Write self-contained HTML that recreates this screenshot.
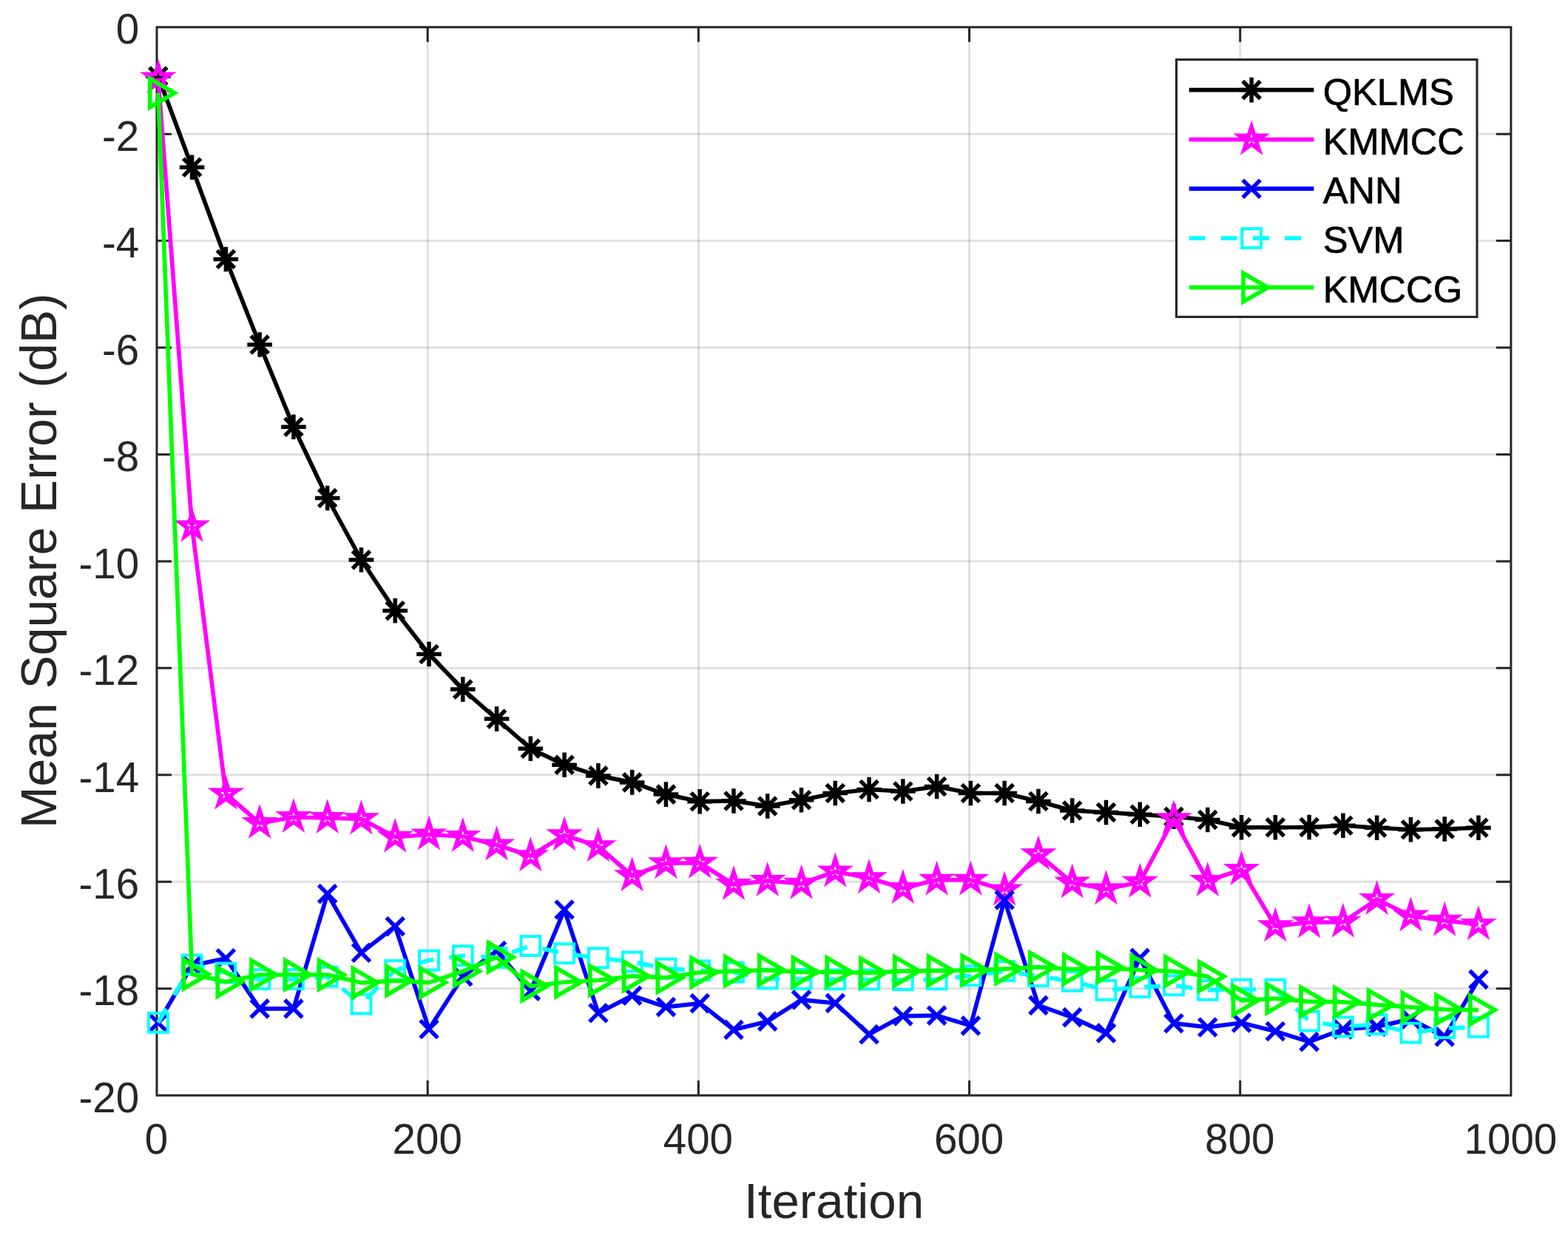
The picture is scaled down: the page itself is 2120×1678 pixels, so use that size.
<!DOCTYPE html>
<html lang="en">
<head>
<meta charset="utf-8">
<title>Mean Square Error vs Iteration</title>
<style>
html, body { margin: 0; padding: 0; background: #ffffff; }
body { width: 2120px; height: 1678px; overflow: hidden; }
svg { display: block; }
</style>
</head>
<body>
<svg width="2120" height="1678" viewBox="0 0 2120 1678">
<defs><g id="mA"><path d="M-16.80 0H16.80M0 -16.80V16.80M-11.88 -11.88L11.88 11.88M-11.88 11.88L11.88 -11.88" fill="none" stroke-width="5.5"/></g><g id="mX"><path d="M-11.88 -11.88L11.88 11.88M-11.88 11.88L11.88 -11.88" fill="none" stroke-width="5.5"/></g><g id="mP"><path d="M0.00 -17.00L3.82 -5.25L16.17 -5.25L6.18 2.01L9.99 13.75L0.00 6.49L-9.99 13.75L-6.18 2.01L-16.17 -5.25L-3.82 -5.25Z" fill="none" stroke-width="5.6" stroke-linejoin="miter" stroke-miterlimit="10"/></g><g id="mS"><rect x="-12.90" y="-12.90" width="25.80" height="25.80" fill="none" stroke-width="4.0"/></g><g id="mT"><path d="M-11.10 -19.23L22.20 0L-11.10 19.23Z" fill="none" stroke-width="5.7" stroke-linejoin="miter" stroke-miterlimit="10"/></g></defs>
<rect x="0" y="0" width="2120" height="1678" fill="#fff"/>
<path d="M578.18 36.75V1481.1M944.36 36.75V1481.1M1310.54 36.75V1481.1M1676.72 36.75V1481.1" stroke="#262626" stroke-opacity="0.15" stroke-width="2.9" fill="none"/>
<path d="M212.0 181.19H2042.9M212.0 325.62H2042.9M212.0 470.06H2042.9M212.0 614.49H2042.9M212.0 758.92H2042.9M212.0 903.36H2042.9M212.0 1047.8H2042.9M212.0 1192.23H2042.9M212.0 1336.66H2042.9" stroke="#262626" stroke-opacity="0.15" stroke-width="2.9" fill="none"/>
<path d="M578.18 1481.1v-20.0M578.18 36.75v20.0M944.36 1481.1v-20.0M944.36 36.75v20.0M1310.54 1481.1v-20.0M1310.54 36.75v20.0M1676.72 1481.1v-20.0M1676.72 36.75v20.0M212.0 181.19h20.0M2042.9 181.19h-20.0M212.0 325.62h20.0M2042.9 325.62h-20.0M212.0 470.06h20.0M2042.9 470.06h-20.0M212.0 614.49h20.0M2042.9 614.49h-20.0M212.0 758.92h20.0M2042.9 758.92h-20.0M212.0 903.36h20.0M2042.9 903.36h-20.0M212.0 1047.8h20.0M2042.9 1047.8h-20.0M212.0 1192.23h20.0M2042.9 1192.23h-20.0M212.0 1336.66h20.0M2042.9 1336.66h-20.0" stroke="#262626" stroke-width="3.0" fill="none"/>
<rect x="212.0" y="36.75" width="1830.9" height="1444.35" fill="none" stroke="#262626" stroke-width="3.0"/>
<g stroke="#000000">
<polyline fill="none" stroke-width="5.7" stroke-linejoin="round" points="213.83,103 259.6,226.25 305.38,350.5 351.15,466 396.92,577.25 442.69,673.5 488.47,757 534.24,825.7 580.01,884.5 625.78,932.1 671.56,972.1 717.33,1012.2 763.1,1034.2 808.87,1048.9 854.65,1057.9 900.42,1074.1 946.19,1083.7 991.96,1083 1037.74,1090 1083.51,1081.75 1129.28,1072.5 1175.05,1067.5 1220.83,1070 1266.6,1063.5 1312.37,1072.5 1358.14,1072.5 1403.92,1083.5 1449.69,1096 1495.46,1098.5 1541.23,1101.25 1587.01,1104.25 1632.78,1108.5 1678.55,1118.75 1724.32,1118.75 1770.1,1118.5 1815.87,1116.25 1861.64,1119.25 1907.41,1121.75 1953.19,1121 1998.96,1119.25"/>
<use href="#mA" x="213.83" y="103"/>
<use href="#mA" x="259.6" y="226.25"/>
<use href="#mA" x="305.38" y="350.5"/>
<use href="#mA" x="351.15" y="466"/>
<use href="#mA" x="396.92" y="577.25"/>
<use href="#mA" x="442.69" y="673.5"/>
<use href="#mA" x="488.47" y="757"/>
<use href="#mA" x="534.24" y="825.7"/>
<use href="#mA" x="580.01" y="884.5"/>
<use href="#mA" x="625.78" y="932.1"/>
<use href="#mA" x="671.56" y="972.1"/>
<use href="#mA" x="717.33" y="1012.2"/>
<use href="#mA" x="763.1" y="1034.2"/>
<use href="#mA" x="808.87" y="1048.9"/>
<use href="#mA" x="854.65" y="1057.9"/>
<use href="#mA" x="900.42" y="1074.1"/>
<use href="#mA" x="946.19" y="1083.7"/>
<use href="#mA" x="991.96" y="1083"/>
<use href="#mA" x="1037.74" y="1090"/>
<use href="#mA" x="1083.51" y="1081.75"/>
<use href="#mA" x="1129.28" y="1072.5"/>
<use href="#mA" x="1175.05" y="1067.5"/>
<use href="#mA" x="1220.83" y="1070"/>
<use href="#mA" x="1266.6" y="1063.5"/>
<use href="#mA" x="1312.37" y="1072.5"/>
<use href="#mA" x="1358.14" y="1072.5"/>
<use href="#mA" x="1403.92" y="1083.5"/>
<use href="#mA" x="1449.69" y="1096"/>
<use href="#mA" x="1495.46" y="1098.5"/>
<use href="#mA" x="1541.23" y="1101.25"/>
<use href="#mA" x="1587.01" y="1104.25"/>
<use href="#mA" x="1632.78" y="1108.5"/>
<use href="#mA" x="1678.55" y="1118.75"/>
<use href="#mA" x="1724.32" y="1118.75"/>
<use href="#mA" x="1770.1" y="1118.5"/>
<use href="#mA" x="1815.87" y="1116.25"/>
<use href="#mA" x="1861.64" y="1119.25"/>
<use href="#mA" x="1907.41" y="1121.75"/>
<use href="#mA" x="1953.19" y="1121"/>
<use href="#mA" x="1998.96" y="1119.25"/>
</g>
<g stroke="#ff00ff">
<polyline fill="none" stroke-width="5.7" stroke-linejoin="round" points="213.83,105.5 259.6,711.6 305.38,1073.5 351.15,1113 396.92,1105 442.69,1106 488.47,1107.3 534.24,1131.75 580.01,1128.5 625.78,1131 671.56,1142.5 717.33,1157.25 763.1,1129.25 808.87,1144.25 854.65,1184.25 900.42,1167.25 946.19,1166.75 991.96,1196 1037.74,1191 1083.51,1194.75 1129.28,1178.5 1175.05,1187.25 1220.83,1201 1266.6,1189.75 1312.37,1189.75 1358.14,1203.5 1403.92,1155.25 1449.69,1193.5 1495.46,1202.25 1541.23,1192.75 1587.01,1107.25 1632.78,1191 1678.55,1176 1724.32,1252.25 1770.1,1247.25 1815.87,1246.75 1861.64,1216 1907.41,1238.5 1953.19,1244.75 1998.96,1250"/>
<use href="#mP" x="213.83" y="105.5"/>
<use href="#mP" x="259.6" y="711.6"/>
<use href="#mP" x="305.38" y="1073.5"/>
<use href="#mP" x="351.15" y="1113"/>
<use href="#mP" x="396.92" y="1105"/>
<use href="#mP" x="442.69" y="1106"/>
<use href="#mP" x="488.47" y="1107.3"/>
<use href="#mP" x="534.24" y="1131.75"/>
<use href="#mP" x="580.01" y="1128.5"/>
<use href="#mP" x="625.78" y="1131"/>
<use href="#mP" x="671.56" y="1142.5"/>
<use href="#mP" x="717.33" y="1157.25"/>
<use href="#mP" x="763.1" y="1129.25"/>
<use href="#mP" x="808.87" y="1144.25"/>
<use href="#mP" x="854.65" y="1184.25"/>
<use href="#mP" x="900.42" y="1167.25"/>
<use href="#mP" x="946.19" y="1166.75"/>
<use href="#mP" x="991.96" y="1196"/>
<use href="#mP" x="1037.74" y="1191"/>
<use href="#mP" x="1083.51" y="1194.75"/>
<use href="#mP" x="1129.28" y="1178.5"/>
<use href="#mP" x="1175.05" y="1187.25"/>
<use href="#mP" x="1220.83" y="1201"/>
<use href="#mP" x="1266.6" y="1189.75"/>
<use href="#mP" x="1312.37" y="1189.75"/>
<use href="#mP" x="1358.14" y="1203.5"/>
<use href="#mP" x="1403.92" y="1155.25"/>
<use href="#mP" x="1449.69" y="1193.5"/>
<use href="#mP" x="1495.46" y="1202.25"/>
<use href="#mP" x="1541.23" y="1192.75"/>
<use href="#mP" x="1587.01" y="1107.25"/>
<use href="#mP" x="1632.78" y="1191"/>
<use href="#mP" x="1678.55" y="1176"/>
<use href="#mP" x="1724.32" y="1252.25"/>
<use href="#mP" x="1770.1" y="1247.25"/>
<use href="#mP" x="1815.87" y="1246.75"/>
<use href="#mP" x="1861.64" y="1216"/>
<use href="#mP" x="1907.41" y="1238.5"/>
<use href="#mP" x="1953.19" y="1244.75"/>
<use href="#mP" x="1998.96" y="1250"/>
</g>
<g stroke="#0000ff">
<polyline fill="none" stroke-width="5.7" stroke-linejoin="round" points="213.83,1383 259.6,1305.6 305.38,1295.7 351.15,1363.85 396.92,1363.85 442.69,1208.6 488.47,1288.3 534.24,1252.6 580.01,1391.5 625.78,1320.5 671.56,1285.5 717.33,1340.1 763.1,1230 808.87,1369.8 854.65,1346.2 900.42,1361.6 946.19,1356.6 991.96,1392.35 1037.74,1381.1 1083.51,1351.85 1129.28,1356.35 1175.05,1398.6 1220.83,1373.85 1266.6,1373.1 1312.37,1386.85 1358.14,1216.85 1403.92,1359.35 1449.69,1375.6 1495.46,1396.9 1541.23,1295.4 1587.01,1383.7 1632.78,1388.95 1678.55,1383 1724.32,1394.5 1770.1,1408.6 1815.87,1391.85 1861.64,1388.1 1907.41,1378.1 1953.19,1401.85 1998.96,1324.35"/>
<use href="#mX" x="213.83" y="1383"/>
<use href="#mX" x="259.6" y="1305.6"/>
<use href="#mX" x="305.38" y="1295.7"/>
<use href="#mX" x="351.15" y="1363.85"/>
<use href="#mX" x="396.92" y="1363.85"/>
<use href="#mX" x="442.69" y="1208.6"/>
<use href="#mX" x="488.47" y="1288.3"/>
<use href="#mX" x="534.24" y="1252.6"/>
<use href="#mX" x="580.01" y="1391.5"/>
<use href="#mX" x="625.78" y="1320.5"/>
<use href="#mX" x="671.56" y="1285.5"/>
<use href="#mX" x="717.33" y="1340.1"/>
<use href="#mX" x="763.1" y="1230"/>
<use href="#mX" x="808.87" y="1369.8"/>
<use href="#mX" x="854.65" y="1346.2"/>
<use href="#mX" x="900.42" y="1361.6"/>
<use href="#mX" x="946.19" y="1356.6"/>
<use href="#mX" x="991.96" y="1392.35"/>
<use href="#mX" x="1037.74" y="1381.1"/>
<use href="#mX" x="1083.51" y="1351.85"/>
<use href="#mX" x="1129.28" y="1356.35"/>
<use href="#mX" x="1175.05" y="1398.6"/>
<use href="#mX" x="1220.83" y="1373.85"/>
<use href="#mX" x="1266.6" y="1373.1"/>
<use href="#mX" x="1312.37" y="1386.85"/>
<use href="#mX" x="1358.14" y="1216.85"/>
<use href="#mX" x="1403.92" y="1359.35"/>
<use href="#mX" x="1449.69" y="1375.6"/>
<use href="#mX" x="1495.46" y="1396.9"/>
<use href="#mX" x="1541.23" y="1295.4"/>
<use href="#mX" x="1587.01" y="1383.7"/>
<use href="#mX" x="1632.78" y="1388.95"/>
<use href="#mX" x="1678.55" y="1383"/>
<use href="#mX" x="1724.32" y="1394.5"/>
<use href="#mX" x="1770.1" y="1408.6"/>
<use href="#mX" x="1815.87" y="1391.85"/>
<use href="#mX" x="1861.64" y="1388.1"/>
<use href="#mX" x="1907.41" y="1378.1"/>
<use href="#mX" x="1953.19" y="1401.85"/>
<use href="#mX" x="1998.96" y="1324.35"/>
</g>
<g stroke="#00ffff">
<polyline fill="none" stroke-width="5.7" stroke-linejoin="round" stroke-dasharray="21.9 21.28" points="213.83,1382.9 259.6,1304.4 305.38,1315.5 351.15,1324.1 396.92,1324.1 442.69,1320.5 488.47,1357.5 534.24,1311.9 580.01,1298.5 625.78,1292.2 671.56,1295 717.33,1279 763.1,1289.2 808.87,1295.3 854.65,1300.5 900.42,1309.6 946.19,1312.2 991.96,1314.6 1037.74,1323.35 1083.51,1323.85 1129.28,1324.35 1175.05,1324.6 1220.83,1325.1 1266.6,1324.35 1312.37,1319.35 1358.14,1313.1 1403.92,1320.1 1449.69,1326.85 1495.46,1338.8 1541.23,1334.9 1587.01,1332.3 1632.78,1338.8 1678.55,1337.6 1724.32,1337.6 1770.1,1380.6 1815.87,1388.35 1861.64,1385.1 1907.41,1396.6 1953.19,1390.1 1998.96,1388.85"/>
<use href="#mS" x="213.83" y="1382.9"/>
<use href="#mS" x="259.6" y="1304.4"/>
<use href="#mS" x="305.38" y="1315.5"/>
<use href="#mS" x="351.15" y="1324.1"/>
<use href="#mS" x="396.92" y="1324.1"/>
<use href="#mS" x="442.69" y="1320.5"/>
<use href="#mS" x="488.47" y="1357.5"/>
<use href="#mS" x="534.24" y="1311.9"/>
<use href="#mS" x="580.01" y="1298.5"/>
<use href="#mS" x="625.78" y="1292.2"/>
<use href="#mS" x="671.56" y="1295"/>
<use href="#mS" x="717.33" y="1279"/>
<use href="#mS" x="763.1" y="1289.2"/>
<use href="#mS" x="808.87" y="1295.3"/>
<use href="#mS" x="854.65" y="1300.5"/>
<use href="#mS" x="900.42" y="1309.6"/>
<use href="#mS" x="946.19" y="1312.2"/>
<use href="#mS" x="991.96" y="1314.6"/>
<use href="#mS" x="1037.74" y="1323.35"/>
<use href="#mS" x="1083.51" y="1323.85"/>
<use href="#mS" x="1129.28" y="1324.35"/>
<use href="#mS" x="1175.05" y="1324.6"/>
<use href="#mS" x="1220.83" y="1325.1"/>
<use href="#mS" x="1266.6" y="1324.35"/>
<use href="#mS" x="1312.37" y="1319.35"/>
<use href="#mS" x="1358.14" y="1313.1"/>
<use href="#mS" x="1403.92" y="1320.1"/>
<use href="#mS" x="1449.69" y="1326.85"/>
<use href="#mS" x="1495.46" y="1338.8"/>
<use href="#mS" x="1541.23" y="1334.9"/>
<use href="#mS" x="1587.01" y="1332.3"/>
<use href="#mS" x="1632.78" y="1338.8"/>
<use href="#mS" x="1678.55" y="1337.6"/>
<use href="#mS" x="1724.32" y="1337.6"/>
<use href="#mS" x="1770.1" y="1380.6"/>
<use href="#mS" x="1815.87" y="1388.35"/>
<use href="#mS" x="1861.64" y="1385.1"/>
<use href="#mS" x="1907.41" y="1396.6"/>
<use href="#mS" x="1953.19" y="1390.1"/>
<use href="#mS" x="1998.96" y="1388.85"/>
</g>
<g stroke="#00ff00">
<polyline fill="none" stroke-width="5.7" stroke-linejoin="round" points="213.83,125.8 259.6,1317.3 305.38,1327.5 351.15,1318 396.92,1318 442.69,1318 488.47,1328.85 534.24,1326.1 580.01,1328.6 625.78,1313.3 671.56,1294.3 717.33,1333.3 763.1,1328 808.87,1325.5 854.65,1319.8 900.42,1321.9 946.19,1314.8 991.96,1313.1 1037.74,1311.85 1083.51,1314.35 1129.28,1314.35 1175.05,1315.35 1220.83,1313.1 1266.6,1312.6 1312.37,1311.85 1358.14,1310.1 1403.92,1307.6 1449.69,1310.6 1495.46,1308.3 1541.23,1311.7 1587.01,1313.3 1632.78,1320.3 1678.55,1352.8 1724.32,1350.1 1770.1,1354.35 1815.87,1354.85 1861.64,1358.6 1907.41,1361.85 1953.19,1364.85 1998.96,1365.6"/>
<use href="#mT" x="213.83" y="125.8"/>
<use href="#mT" x="259.6" y="1317.3"/>
<use href="#mT" x="305.38" y="1327.5"/>
<use href="#mT" x="351.15" y="1318"/>
<use href="#mT" x="396.92" y="1318"/>
<use href="#mT" x="442.69" y="1318"/>
<use href="#mT" x="488.47" y="1328.85"/>
<use href="#mT" x="534.24" y="1326.1"/>
<use href="#mT" x="580.01" y="1328.6"/>
<use href="#mT" x="625.78" y="1313.3"/>
<use href="#mT" x="671.56" y="1294.3"/>
<use href="#mT" x="717.33" y="1333.3"/>
<use href="#mT" x="763.1" y="1328"/>
<use href="#mT" x="808.87" y="1325.5"/>
<use href="#mT" x="854.65" y="1319.8"/>
<use href="#mT" x="900.42" y="1321.9"/>
<use href="#mT" x="946.19" y="1314.8"/>
<use href="#mT" x="991.96" y="1313.1"/>
<use href="#mT" x="1037.74" y="1311.85"/>
<use href="#mT" x="1083.51" y="1314.35"/>
<use href="#mT" x="1129.28" y="1314.35"/>
<use href="#mT" x="1175.05" y="1315.35"/>
<use href="#mT" x="1220.83" y="1313.1"/>
<use href="#mT" x="1266.6" y="1312.6"/>
<use href="#mT" x="1312.37" y="1311.85"/>
<use href="#mT" x="1358.14" y="1310.1"/>
<use href="#mT" x="1403.92" y="1307.6"/>
<use href="#mT" x="1449.69" y="1310.6"/>
<use href="#mT" x="1495.46" y="1308.3"/>
<use href="#mT" x="1541.23" y="1311.7"/>
<use href="#mT" x="1587.01" y="1313.3"/>
<use href="#mT" x="1632.78" y="1320.3"/>
<use href="#mT" x="1678.55" y="1352.8"/>
<use href="#mT" x="1724.32" y="1350.1"/>
<use href="#mT" x="1770.1" y="1354.35"/>
<use href="#mT" x="1815.87" y="1354.85"/>
<use href="#mT" x="1861.64" y="1358.6"/>
<use href="#mT" x="1907.41" y="1361.85"/>
<use href="#mT" x="1953.19" y="1364.85"/>
<use href="#mT" x="1998.96" y="1365.6"/>
</g>
<g font-family="'Liberation Sans', sans-serif" font-size="56.5" fill="#262626">
<text x="211.5" y="1559.6" text-anchor="middle">0</text>
<text x="577.68" y="1559.6" text-anchor="middle">200</text>
<text x="943.86" y="1559.6" text-anchor="middle">400</text>
<text x="1310.04" y="1559.6" text-anchor="middle">600</text>
<text x="1676.22" y="1559.6" text-anchor="middle">800</text>
<text x="2042.4" y="1559.6" text-anchor="middle">1000</text>
<text x="188.2" y="59.45" text-anchor="end">0</text>
<text x="188.2" y="203.88" text-anchor="end">-2</text>
<text x="188.2" y="348.32" text-anchor="end">-4</text>
<text x="188.2" y="492.75" text-anchor="end">-6</text>
<text x="188.2" y="637.19" text-anchor="end">-8</text>
<text x="188.2" y="781.62" text-anchor="end">-10</text>
<text x="188.2" y="926.06" text-anchor="end">-12</text>
<text x="188.2" y="1070.5" text-anchor="end">-14</text>
<text x="188.2" y="1214.93" text-anchor="end">-16</text>
<text x="188.2" y="1359.37" text-anchor="end">-18</text>
<text x="188.2" y="1503.8" text-anchor="end">-20</text>
</g>
<g font-family="'Liberation Sans', sans-serif" font-size="67.3" fill="#262626">
<text x="1127.6" y="1647.2" text-anchor="middle">Iteration</text>
<text transform="translate(75.7 758.2) rotate(-90)" text-anchor="middle" font-size="67.8">Mean Square Error (dB)</text>
</g>
<rect x="1590.5" y="80.6" width="406.5" height="347.9" fill="#fff" stroke="#262626" stroke-width="3.1"/>
<g font-family="'Liberation Sans', sans-serif" font-size="50.6" fill="#000">
<g stroke="#000000"><path d="M1607.7 121.6H1776.4" stroke-width="5.7" fill="none"/><use href="#mA" x="1692.1" y="121.6"/></g>
<text x="1788.7" y="141.6" stroke="#000" stroke-width="0.7">QKLMS</text>
<g stroke="#ff00ff"><path d="M1607.7 188.6H1776.4" stroke-width="5.7" fill="none"/><use href="#mP" x="1692.1" y="188.6"/></g>
<text x="1788.7" y="208.6" stroke="#000" stroke-width="0.7">KMMCC</text>
<g stroke="#0000ff"><path d="M1607.7 255.2H1776.4" stroke-width="5.7" fill="none"/><use href="#mX" x="1692.1" y="255.2"/></g>
<text x="1788.7" y="275.2" stroke="#000" stroke-width="0.7">ANN</text>
<g stroke="#00ffff"><path d="M1607.7 322.1H1776.4" stroke-width="5.7" fill="none" stroke-dasharray="21.9 21.28"/><use href="#mS" x="1692.1" y="322.1"/></g>
<text x="1788.7" y="342.1" stroke="#000" stroke-width="0.7">SVM</text>
<g stroke="#00ff00"><path d="M1607.7 388.7H1776.4" stroke-width="5.7" fill="none"/><use href="#mT" x="1692.1" y="388.7"/></g>
<text x="1788.7" y="408.7" stroke="#000" stroke-width="0.7">KMCCG</text>
</g>
</svg>
</body>
</html>
